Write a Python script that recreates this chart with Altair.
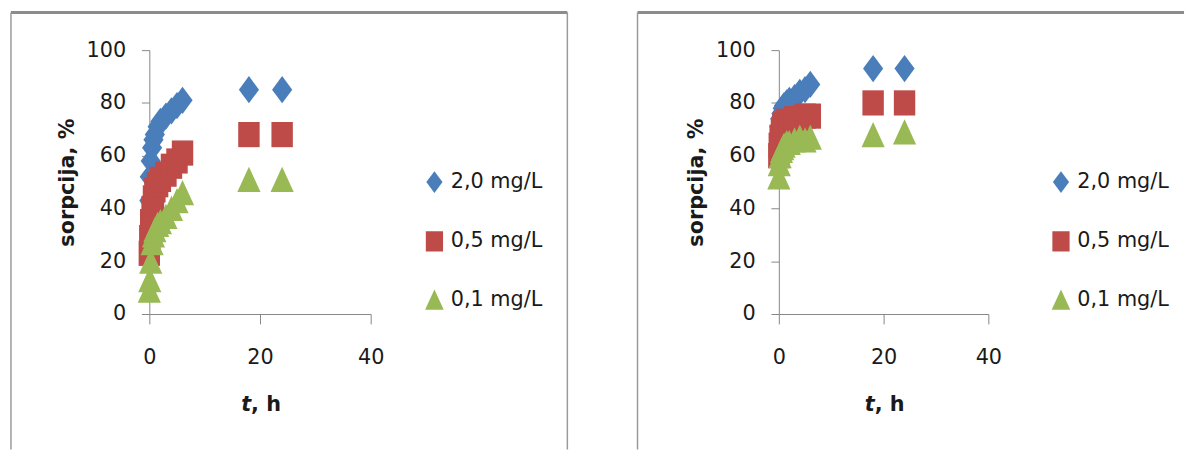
import altair as alt
import pandas as pd

# ---- data ----
times = [0, 0.083, 0.25, 0.5, 0.75, 1, 1.5, 2, 3, 4, 5, 6, 18, 24]
series = ["2,0 mg/L", "0,5 mg/L", "0,1 mg/L"]

left_20 = [43, 52, 58, 63, 66, 68, 71, 73, 75, 77, 79, 81, 85, 85]
left_05 = [23, 29, 35, 40, 44, 47, 49, 51, 53, 56, 58, 61, 68, 68]
left_01 = [9, 13, 20, 27, 30, 32, 34, 35, 37, 40, 43, 46, 51, 51]

right_20 = [67, 71, 74, 76, 78, 79, 80, 81, 82, 84, 85, 87, 93, 93]
right_05 = [60, 64, 67, 69, 71, 72, 73, 73, 74, 74, 75, 75, 80, 80]
right_01 = [52, 57, 60, 62, 63, 64, 65, 65, 66, 67, 66, 67, 68, 69]

x_ticks = [0, 20, 40]
y_ticks = [0, 20, 40, 60, 80, 100]

colors = ["#4A7EBB", "#BE4B48", "#98B954"]
shape_paths = [
    "M0,-1.08L0.8,0L0,1.08L-0.8,0Z",
    "M-0.85,-1H0.85V1H-0.85Z",
    "M0,-1L0.92,1H-0.92Z",
]

FONT = "DejaVu Sans"
INK = "#1a1a1a"
AXIS_GRAY = "#868686"


def long_df(vals_by_series):
    rows = []
    for s, vals in zip(series, vals_by_series):
        for t, v in zip(times, vals):
            rows.append({"t": t, "sorpcija": v, "serija": s})
    return pd.DataFrame(rows)


one = pd.DataFrame({"k": [0]})


def panel(df, W, H, left_ext, right_ext, legend_x, draw_right):
    legend = alt.Legend(
        title=None, orient="none", legendX=legend_x, legendY=123,
        symbolSize=420, labelFontSize=21, labelFont=FONT, labelColor=INK,
        rowPadding=37, labelOffset=6, padding=0, symbolStrokeWidth=0,
    )
    pts = alt.Chart(df).mark_point(filled=True, size=650, opacity=1, strokeWidth=0).encode(
        x=alt.X("t:Q", scale=alt.Scale(domain=[0, 40], nice=False),
                axis=alt.Axis(values=x_ticks, title=None, tickSize=10, labelPadding=23,
                              labelFlush=False)),
        y=alt.Y("sorpcija:Q", scale=alt.Scale(domain=[0, 100], nice=False),
                axis=alt.Axis(values=y_ticks, title="sorpcija, %", tickSize=8, labelPadding=16,
                              titleX=-83, titleY=H / 2, titleBaseline="middle",
                              titleAlign="center", titleAngle=270)),
        color=alt.Color("serija:N", scale=alt.Scale(domain=series, range=colors), legend=legend),
        shape=alt.Shape("serija:N", scale=alt.Scale(domain=series, range=shape_paths), legend=legend),
    )
    top = alt.Chart(one).mark_rule(color="#8c8c8c", strokeWidth=3).encode(
        x=alt.value(left_ext), x2=alt.value(right_ext), y=alt.value(-38))
    lft = alt.Chart(one).mark_rule(color="#9a9a9a", strokeWidth=1.5).encode(
        x=alt.value(left_ext), y=alt.value(-38), y2=alt.value(404))
    t_txt = alt.Chart(one).mark_text(
        text="t", font=FONT, fontSize=21, fontWeight="bold", fontStyle="italic",
        align="right", baseline="middle", color=INK).encode(
        x=alt.value(W / 2 - 9), y=alt.value(H + 92))
    h_txt = alt.Chart(one).mark_text(
        text=", h", font=FONT, fontSize=21, fontWeight="bold",
        align="left", baseline="middle", color=INK).encode(
        x=alt.value(W / 2 - 9), y=alt.value(H + 92))
    layers = [top, lft]
    if draw_right:
        rgt = alt.Chart(one).mark_rule(color="#9a9a9a", strokeWidth=1.5).encode(
            x=alt.value(right_ext), y=alt.value(-38), y2=alt.value(404))
        layers.append(rgt)
    layers += [pts, t_txt, h_txt]
    return alt.layer(*layers).properties(width=W, height=H)


H = 267
left = panel(long_df([left_20, left_05, left_01]), 224, H, -140, 423, 278, True)
right = panel(long_df([right_20, right_05, right_01]), 212, H, -143, 410, 275, False)

chart = (
    alt.hconcat(left, right, spacing=67)
    .resolve_legend(color="independent", shape="independent")
    .properties(padding={"left": 1, "top": 0, "right": 0, "bottom": 0}, background="white")
    .configure_view(stroke=None)
    .configure_axis(
        grid=False, domainColor=AXIS_GRAY, tickColor=AXIS_GRAY, domainWidth=1, tickWidth=1,
        labelFont=FONT, labelFontSize=21, labelColor=INK,
        titleFont=FONT, titleFontSize=21, titleFontWeight="bold", titleColor=INK,
    )
)

chart.save("out.html", embed_options={"renderer": "svg", "actions": False})
